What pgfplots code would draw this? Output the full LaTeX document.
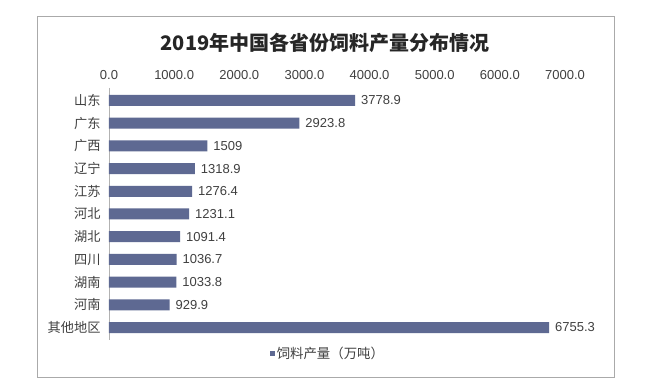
\documentclass[border=0pt]{standalone}
\usepackage{pgfplots}
\pgfplotsset{compat=1.18}
\usepackage{pgfplotstable}
\usepackage{fontspec}
\setmainfont{Liberation Sans}
\newfontfamily\cjk{Noto Sans CJK SC}
\definecolor{barcol}{RGB}{94,105,146}
\definecolor{txt}{RGB}{64,64,64}
\definecolor{framecol}{RGB}{170,170,170}
\pgfplotstableread{
y x label
0 3778.9 3778.9
1 2923.8 2923.8
2 1509 1509
3 1318.9 1318.9
4 1276.4 1276.4
5 1231.1 1231.1
6 1091.4 1091.4
7 1036.7 1036.7
8 1033.8 1033.8
9 929.9 929.9
10 6755.3 6755.3
}\datatable
\begin{document}
\begin{tikzpicture}
\path[use as bounding box] (0pt,0pt) rectangle (657pt,390pt);
\fill[white] (0pt,0pt) rectangle (657pt,390pt);
\draw[framecol, line width=1pt] (37pt,12pt) rectangle (614pt,373pt);
\node[font=\cjk\bfseries\fontsize{20pt}{24pt}\selectfont, text=black!85] at (325pt,347pt) {2019年中国各省份饲料产量分布情况};
\begin{axis}[
  at={(109pt,50pt)}, anchor=south west,
  width=456pt, height=252pt, scale only axis,
  xbar, bar width=11pt,
  xmin=0, xmax=7000, xtick={0,1000,...,7000},
  ymin=-0.55, ymax=10.55, y dir=reverse,
  ytick=data,
  yticklabels={山东,广东,广西,辽宁,江苏,河北,湖北,四川,湖南,河南,其他地区},
  axis x line*=top, axis y line*=left,
  x axis line style={draw=none},
  y axis line style={draw=black!30, line width=0.8pt},
  major tick length=0pt,
  /pgf/number format/assume math mode=true,
  xticklabel style={font=\fontsize{13pt}{15pt}\selectfont, text=txt, yshift=5pt,
    /pgf/number format/.cd, fixed, fixed zerofill, precision=1, 1000 sep={}},
  yticklabel style={font=\cjk\fontsize{13.2pt}{15pt}\selectfont, text=txt, xshift=-5pt},
  point meta=explicit symbolic,
  nodes near coords,
  nodes near coords style={font=\fontsize{13pt}{15pt}\selectfont, text=txt, anchor=west, xshift=2.5pt},
  legend style={at={(0.48,-0.054)}, anchor=center, draw=none, fill=none,
    font=\cjk\fontsize{13.4pt}{15pt}\selectfont, text=txt},
  legend image code/.code={\fill[barcol] (0pt,-2.5pt) rectangle (5pt,2.5pt);},
]
\addplot[fill=barcol, draw=none] table[x=x, y=y, meta=label] {\datatable};
\addlegendentry{饲料产量（万吨）}
\end{axis}
\end{tikzpicture}
\end{document}
